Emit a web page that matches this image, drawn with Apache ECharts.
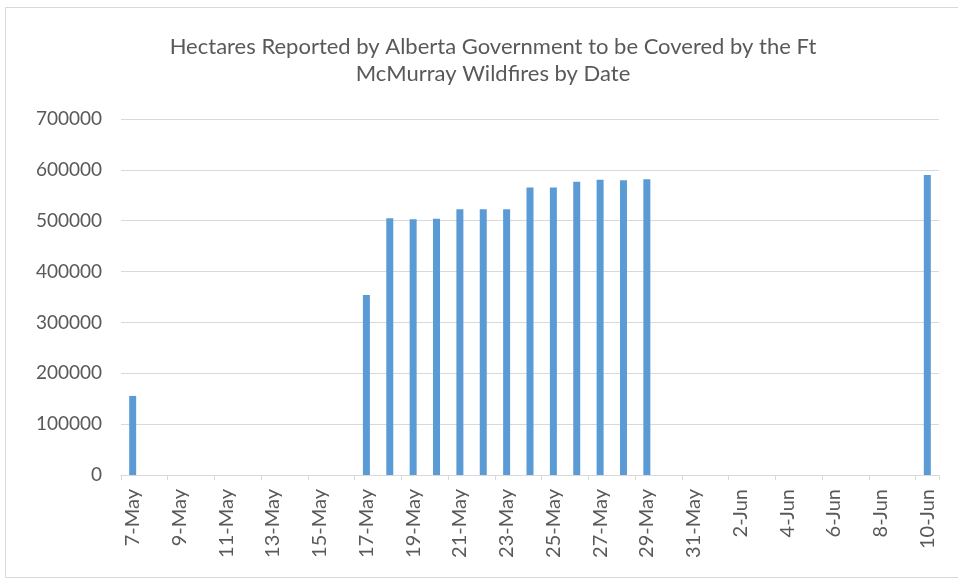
<!DOCTYPE html>
<html>
<head>
<meta charset="utf-8">
<script src="https://cdn.jsdelivr.net/npm/echarts@6/dist/echarts.min.js"></script>
<style>html,body{margin:0;padding:0;background:#fff;}#c{width:958px;height:581px;}</style>
</head>
<body>
<div id="c"></div>
<script>
const titleText = "Hectares Reported by Alberta Government to be Covered by the Ft\nMcMurray Wildfires by Date";
const categories = ["7-May","8-May","9-May","10-May","11-May","12-May","13-May","14-May","15-May","16-May",
  "17-May","18-May","19-May","20-May","21-May","22-May","23-May","24-May","25-May","26-May","27-May","28-May","29-May",
  "30-May","31-May","1-Jun","2-Jun","3-Jun","4-Jun","5-Jun","6-Jun","7-Jun","8-Jun","9-Jun","10-Jun"];
const hectares = [155500,null,null,null,null,null,null,null,null,null,
  354000,505000,503000,504000,522500,522500,522500,565500,565500,576500,580500,579500,581500,
  null,null,null,null,null,null,null,null,null,null,null,590000];
const yTicks = {min:0, max:700000, interval:100000};

const chart = echarts.init(document.getElementById('c'));
chart.setOption({
  animation:false,
  backgroundColor:'#ffffff',
  textStyle:{fontFamily:'Lato'},
  graphic:[{type:'rect',shape:{x:5.5,y:7.5,width:960,height:570},style:{fill:'none',stroke:'#d9d9d9',lineWidth:1},silent:true}],
  title:{text:titleText,left:488,textAlign:'center',top:28,
    textStyle:{fontFamily:'Lato',fontSize:22,fontWeight:'normal',color:'#595959',lineHeight:27}},
  grid:{left:121,right:19,top:119,bottom:106},
  xAxis:{type:'category',data:categories,boundaryGap:true,
    axisLine:{lineStyle:{color:'#d9d9d9',width:1}},
    axisTick:{show:true,interval:1,length:5,lineStyle:{color:'#d9d9d9'}},
    axisLabel:{interval:1,rotate:90,color:'#595959',fontSize:20,fontFamily:'Lato',margin:14}},
  yAxis:{type:'value',min:yTicks.min,max:yTicks.max,interval:yTicks.interval,
    axisLine:{show:false},axisTick:{show:false},
    splitLine:{lineStyle:{color:'#d9d9d9',width:1}},
    axisLabel:{color:'#595959',fontSize:19,fontFamily:'Lato',margin:19,formatter:function(v){return String(v);}}},
  series:[{type:'bar',data:hectares,barWidth:7,itemStyle:{color:'#5B9BD5'}}]
});
</script>
</body>
</html>
